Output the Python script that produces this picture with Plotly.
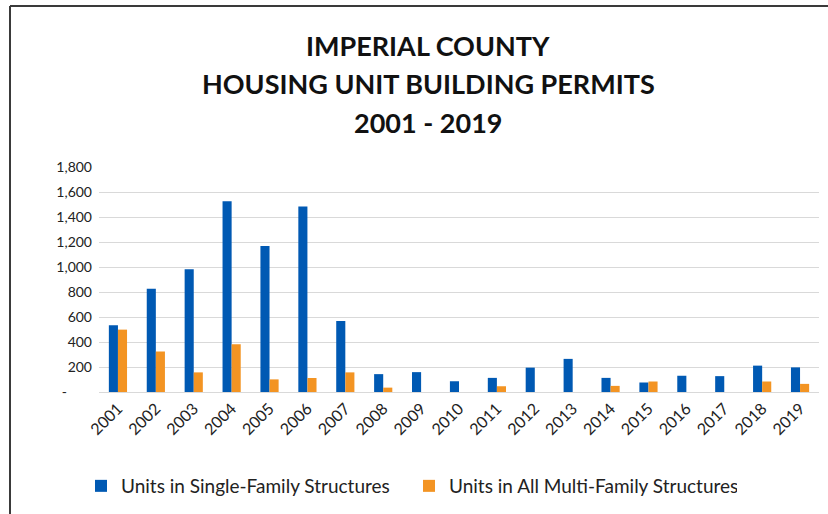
import plotly.graph_objects as go

years = [str(y) for y in range(2001, 2020)]
single_family = [534, 826, 983, 1527, 1169, 1485, 568, 143, 159, 86, 113, 195, 265, 113, 76, 130, 127, 211, 197]
multi_family = [499, 324, 157, 382, 101, 112, 157, 35, 0, 0, 46, 0, 0, 49, 84, 0, 0, 84, 65]
y_ticks = [0, 200, 400, 600, 800, 1000, 1200, 1400, 1600, 1800]
y_tick_labels = ["-" + "\u00a0" * 7, "200", "400", "600", "800", "1,000", "1,200", "1,400", "1,600", "1,800"]
title_lines = ["IMPERIAL COUNTY", "HOUSING UNIT BUILDING PERMITS", "2001 - 2019"]

FONT = "Lato"
W, H = 828, 514
# target plot area in window pixels (body margin removed via post_script)
PL, PR, PT, PB = 99, 819, 167, 392
L, T = PL, PT
R, B = W - PR, H - PB
PW, PH = W - L - R, H - T - B

def px_x(x):
    return (x - L) / PW

def px_y(y):
    return (H - B - y) / PH

fig = go.Figure()
fig.add_trace(go.Bar(x=years, y=single_family, name="Units in Single-Family Structures",
                     marker=dict(color="#0059B3", line=dict(width=0))))
fig.add_trace(go.Bar(x=years, y=multi_family, name="Units in All Multi-Family Structures",
                     marker=dict(color="#F39423", line=dict(width=0))))

fig.update_layout(
    width=W, height=H,
    margin=dict(l=L, r=R, t=T, b=B, autoexpand=False),
    paper_bgcolor="white", plot_bgcolor="white",
    barmode="group", bargap=0.52, bargroupgap=0,
    font=dict(family=FONT, color="#222"),
    xaxis=dict(tickangle=-45, tickfont=dict(size=16, color="#222"), showline=True,
               linecolor="#D9D9D9", linewidth=1, ticks="", showgrid=False, automargin=False),
    yaxis=dict(range=[0, 1800], tickvals=y_ticks, ticktext=y_tick_labels,
               tickfont=dict(size=14, color="#222"), gridcolor="#D9D9D9", gridwidth=1,
               zeroline=False, showline=False, ticks="", ticklabelstandoff=6, automargin=False),
    legend=dict(orientation="h", x=px_x(81), xanchor="left", y=px_y(486), yanchor="middle",
                font=dict(size=19, color="#222"), entrywidth=283, entrywidthmode="pixels",
                itemwidth=30, tracegroupgap=0),
    showlegend=True,
)
for line, ypix in zip(title_lines, [45, 83, 122]):
    fig.add_annotation(text=line, xref="paper", yref="paper", x=px_x(428), y=px_y(ypix),
                       xanchor="center", yanchor="middle", showarrow=False,
                       font=dict(family=FONT, size=27, color="#111", weight="bold"))
# chart frame (left and top edges visible)
fig.add_shape(type="line", xref="paper", yref="paper", x0=px_x(10), x1=px_x(850), y0=px_y(6), y1=px_y(6),
              line=dict(color="#3A3A3A", width=2))
fig.add_shape(type="line", xref="paper", yref="paper", x0=px_x(10), x1=px_x(10), y0=px_y(6), y1=px_y(540),
              line=dict(color="#3A3A3A", width=2))

fig.write_html("out.html", config={"displayModeBar": False},
               post_script="document.body.style.margin='0';document.body.style.overflow='hidden';")
